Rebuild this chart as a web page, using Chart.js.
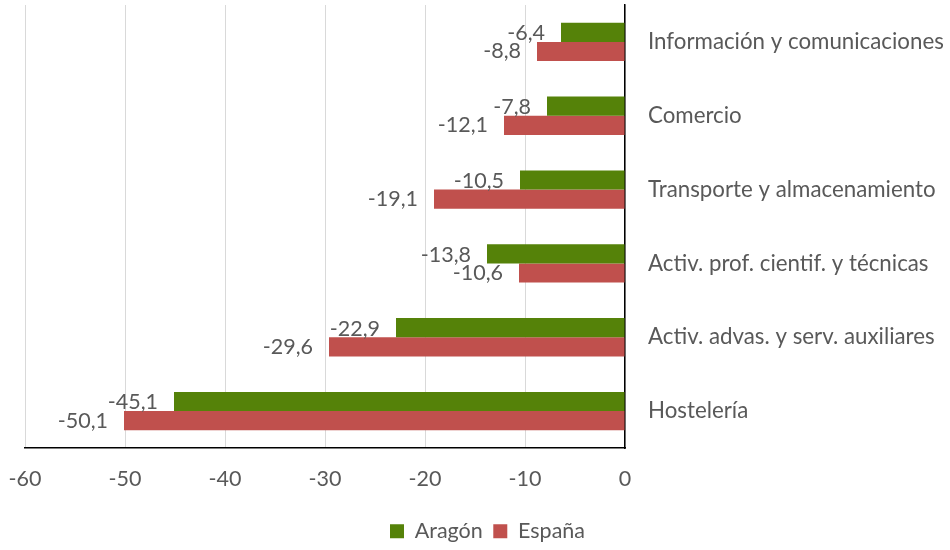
<!DOCTYPE html>
<html>
<head>
<meta charset="utf-8">
<script src="https://cdn.jsdelivr.net/npm/chart.js@4/dist/chart.umd.min.js"></script>
<style>
html,body{margin:0;padding:0;background:#fff;}
#wrap{width:950px;height:550px;}
</style>
</head>
<body>
<div id="wrap"><canvas id="c" width="950" height="550"></canvas></div>
<script>
const categories = [
  "Información y comunicaciones",
  "Comercio",
  "Transporte y almacenamiento",
  "Activ. prof. cientif. y técnicas",
  "Activ. advas. y serv. auxiliares",
  "Hostelería"
];
const aragon = [-6.4, -7.8, -10.5, -13.8, -22.9, -45.1];
const espana = [-8.8, -12.1, -19.1, -10.6, -29.6, -50.1];
const seriesNames = ["Aragón", "España"];
const xMin = -60, xMax = 0, xStep = 10;

const FONT = "Lato, 'Noto Sans', sans-serif";
const TXT = "#595959";
const FS = 21.5;

const labelPlugin = {
  id: 'valueLabels',
  afterDatasetsDraw(chart) {
    const ctx = chart.ctx;
    ctx.save();
    ctx.font = FS + "px " + FONT;
    ctx.fillStyle = TXT;
    ctx.textAlign = 'right';
    ctx.textBaseline = 'middle';
    chart.data.datasets.forEach((ds, di) => {
      const meta = chart.getDatasetMeta(di);
      meta.data.forEach((bar, i) => {
        const v = ds.data[i];
        const txt = v.toFixed(1).replace('.', ',');
        const dy = di === 0 ? 1 : 0;
        ctx.fillText(txt, bar.x - 16, bar.y + dy);
      });
    });
    ctx.restore();
  }
};

new Chart(document.getElementById('c'), {
  type: 'bar',
  data: {
    labels: categories,
    datasets: [
      { label: seriesNames[0], data: aragon, backgroundColor: '#558209', categoryPercentage: 0.52, barPercentage: 1.0 },
      { label: seriesNames[1], data: espana, backgroundColor: '#C0504D', categoryPercentage: 0.52, barPercentage: 1.0 }
    ]
  },
  options: {
    indexAxis: 'y',
    responsive: false,
    animation: false,
    devicePixelRatio: 1,
    layout: { padding: { top: 5, left: 25, right: 0, bottom: -2 } },
    plugins: {
      legend: {
        position: 'bottom',
        labels: { color: TXT, font: { family: FONT, size: FS }, boxWidth: 14, boxHeight: 14, padding: 10.5 }
      },
      tooltip: { enabled: false }
    },
    scales: {
      x: {
        min: xMin, max: xMax,
        ticks: { stepSize: xStep, color: TXT, font: { family: FONT, size: FS }, padding: 18 },
        grid: { color: '#d9d9d9', lineWidth: 1, drawTicks: false },
        border: { display: true, color: '#000', width: 1.5 },
        afterFit(s) { s.height = 62; s.paddingLeft = 0; s.paddingRight = 0; }
      },
      y: {
        position: 'right',
        ticks: { color: TXT, font: { family: FONT, size: 22.3 }, padding: 23 },
        grid: { display: false, drawTicks: false },
        border: { display: true, color: '#000', width: 1.5 },
        afterFit(s) { s.width = 325; s.paddingTop = 0; s.paddingBottom = 0; }
      }
    }
  },
  plugins: [labelPlugin]
});
</script>
</body>
</html>
